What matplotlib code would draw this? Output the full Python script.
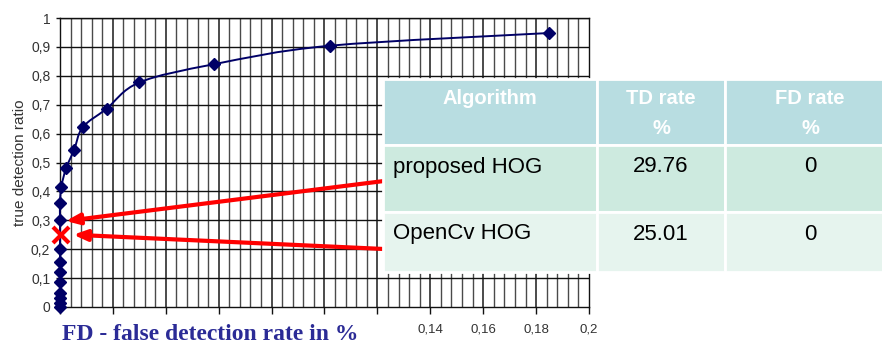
import matplotlib
matplotlib.use("Agg")
import matplotlib.pyplot as plt
from matplotlib.patches import Rectangle, PathPatch
from matplotlib.path import Path
from matplotlib.ticker import FuncFormatter

# ROC-style curve: false detection rate vs true detection ratio
fd_rate = [0.0, 0.0, 0.0, 0.0, 0.0, 0.0, 0.0, 0.0, 0.0, 0.0, 0.0005,
           0.0023, 0.0053, 0.0086, 0.0176, 0.0300, 0.0582, 0.1020, 0.1848]
td_ratio = [0.0, 0.015, 0.03, 0.048, 0.085, 0.12, 0.155, 0.20, 0.30, 0.36, 0.416,
            0.48, 0.543, 0.622, 0.686, 0.777, 0.840, 0.904, 0.948]

x_tick_values = [0.14, 0.16, 0.18, 0.2]
y_tick_values = [0.0, 0.1, 0.2, 0.3, 0.4, 0.5, 0.6, 0.7, 0.8, 0.9, 1.0]

# comparison table
table_header = [("Algorithm", ""), ("TD rate", "%"), ("FD rate", "%")]
algorithms = ["proposed HOG", "OpenCv HOG"]
td_percent = [29.76, 25.01]
fd_percent = [0, 0]

W, H = 882, 345
fig = plt.figure(figsize=(W / 100, H / 100), dpi=100)
fig.patch.set_facecolor("white")
sans = ["Liberation Sans", "DejaVu Sans"]

def px_box(l, t, r, b):
    return [l / W, 1 - b / H, (r - l) / W, (b - t) / H]

ax = fig.add_axes(px_box(60, 18, 589, 307))
ax.set_xlim(0, 0.2)
ax.set_ylim(0, 1)

# fine vertical grid and horizontal grid
for k in range(1, 50):
    major = (k % 5 == 0)
    ax.axvline(k * 0.004, color="#1a1a1a" if major else "#4a4a4a",
               lw=1.1 if major else 1.0, zorder=1)
for yv in y_tick_values[1:]:
    ax.axhline(yv, color="#111111", lw=1.0, zorder=1)

for s in ax.spines.values():
    s.set_color("#111111")
    s.set_linewidth(1.0)

xt = [round(0.02 * i, 2) for i in range(11)]
ax.set_xticks(xt)
ax.set_xticklabels([("%g" % v).replace(".", ",") if v in x_tick_values else "" for v in xt],
                   family=sans)
ax.set_yticks(y_tick_values)
ax.yaxis.set_major_formatter(FuncFormatter(lambda v, p: ("%g" % v).replace(".", ",")))
for lab in ax.get_yticklabels():
    lab.set_family(sans)
ax.tick_params(axis="x", length=5, width=1, color="#111111", labelsize=9.5,
               labelcolor="#333333", pad=7)
ax.tick_params(axis="y", length=3, width=1, color="#111111", labelsize=10,
               labelcolor="#333333", pad=4)
ax.set_ylabel("true detection ratio", fontsize=11, color="#333333", labelpad=3,
              family=sans)

# smoothed connecting line (Catmull-Rom segments as cubic Beziers)
pts = list(zip(fd_rate, td_ratio))
verts = [pts[0]]
codes = [Path.MOVETO]
n = len(pts)
for i in range(n - 1):
    p0 = pts[i - 1] if i > 0 else pts[i]
    p1 = pts[i]
    p2 = pts[i + 1]
    p3 = pts[i + 2] if i + 2 < n else pts[i + 1]
    c1 = (p1[0] + (p2[0] - p0[0]) / 6, p1[1] + (p2[1] - p0[1]) / 6)
    c2 = (p2[0] - (p3[0] - p1[0]) / 6, p2[1] - (p3[1] - p1[1]) / 6)
    verts += [c1, c2, p2]
    codes += [Path.CURVE4] * 3
ax.add_patch(PathPatch(Path(verts, codes), facecolor="none", edgecolor="#000066",
                       lw=1.4, zorder=3, clip_on=False))
ax.plot(fd_rate, td_ratio, ls="none", marker="D", ms=6,
        mfc="#000066", mec="#000066", zorder=4, clip_on=False)

# OpenCV HOG operating point
ax.plot([fd_percent[1] / 100 + 0.0005], [td_percent[1] / 100], marker="x", color="#ff0000",
        ms=12, mew=3, zorder=6, clip_on=False)

# overlay for the table, in pixel coordinates
ov = fig.add_axes([0, 0, 1, 1], zorder=5)
ov.set_xlim(0, W)
ov.set_ylim(H, 0)
ov.axis("off")
ov.patch.set_alpha(0)

cols = [383, 597, 725, 884]
rows = [79, 145, 212, 272]
fills = ["#b8dde1", "#cdeadf", "#e6f4ee"]
for r in range(3):
    for c in range(3):
        ov.add_patch(Rectangle((cols[c], rows[r]), cols[c + 1] - cols[c],
                               rows[r + 1] - rows[r], facecolor=fills[r],
                               edgecolor="white", lw=2.0))

col_centers = [(cols[0] + cols[1]) / 2, (cols[1] + cols[2]) / 2, 810]
for c, (line1, line2) in enumerate(table_header):
    ov.text(col_centers[c], 99, line1, ha="center", va="center",
            fontsize=14.5, fontweight="bold", color="white", family=sans)
    if line2:
        ov.text(col_centers[c], 128, line2, ha="center", va="center",
                fontsize=14.5, fontweight="bold", color="white", family=sans)

for i, name in enumerate(algorithms):
    ty = rows[i + 1] + 22
    ov.text(cols[0] + 10, ty, name, ha="left", va="center", fontsize=16,
            color="black", family=sans)
    ov.text(col_centers[1], ty, "%.2f" % td_percent[i], ha="center",
            va="center", fontsize=16, color="black", family=sans)
    ov.text(col_centers[2], ty, "%d" % fd_percent[i], ha="center",
            va="center", fontsize=16, color="black", family=sans)

# arrows from the table rows to the plotted operating points
arrow_tails = [(384, 181), (384, 249)]
arrow_targets = [(0.0022, td_percent[0] / 100), (0.0050, td_percent[1] / 100)]
for (tx, tyy), (dx, dy) in zip(arrow_tails, arrow_targets):
    ax.annotate("", xy=(dx, dy), xycoords="data",
                xytext=(tx, H - tyy), textcoords="figure pixels",
                arrowprops=dict(arrowstyle="-|>,head_length=0.8,head_width=0.32",
                                color="#ff0000", lw=3.0, shrinkA=0, shrinkB=0),
                annotation_clip=False, zorder=5)

fig.text(62 / W, 1 - 340 / H, "FD - false detection rate in %", ha="left",
         va="baseline", fontsize=17, fontweight="bold", color="#2b2b96",
         family=["Liberation Serif", "DejaVu Serif"])

fig.savefig("out.png", dpi=100)
